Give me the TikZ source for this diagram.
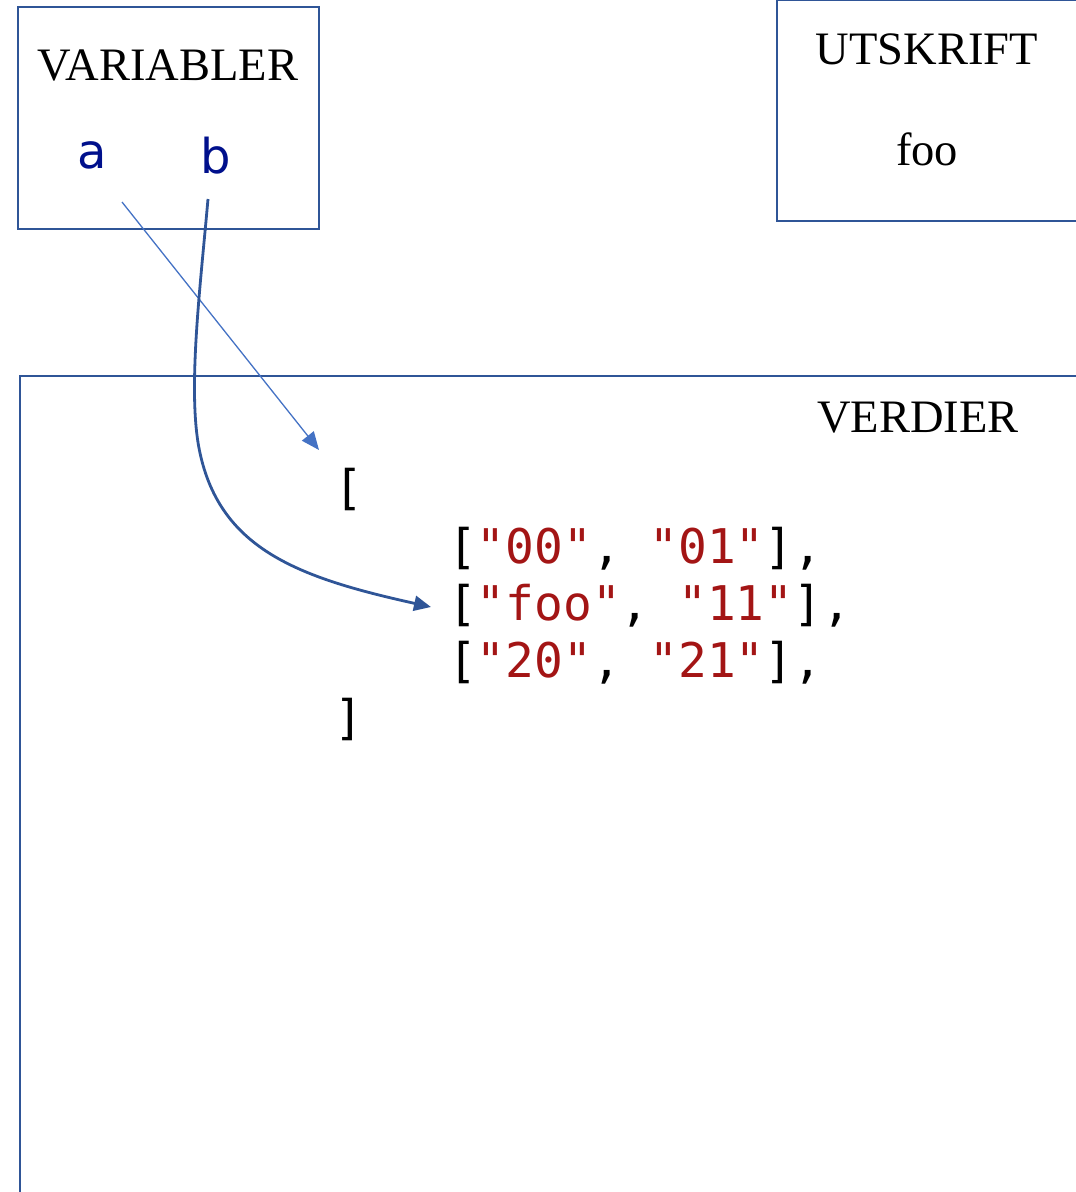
\documentclass[tikz,border=0pt]{standalone}
\usepackage{fontspec}
\setmainfont{Liberation Serif}
\newfontfamily\sansf{DejaVu Sans}
\newfontfamily\monof{DejaVu Sans Mono}
\usetikzlibrary{arrows.meta}
\definecolor{boxblue}{HTML}{2F5597}
\definecolor{lightblue}{HTML}{4472C4}
\definecolor{varnavy}{RGB}{0,16,140}
\definecolor{strred}{HTML}{A31515}
\tikzset{
  panel/.style={draw=boxblue, line width=2.8pt, rectangle, inner sep=0pt},
  title/.style={font=\fontsize{46.5}{54}\selectfont, inner sep=0pt, anchor=base},
  varname/.style={font=\sansf\fontsize{48}{56}\selectfont, text=varnavy, inner sep=0pt, anchor=base},
  code/.style={font=\monof\fontsize{47.8}{56}\selectfont, inner sep=0pt, anchor=base west},
  thinarr/.style={draw=lightblue, line width=1.3pt, -{Triangle[length=18pt,width=15pt]}},
  thickarr/.style={draw=boxblue, line width=2.8pt, -{Triangle[length=17pt,width=15pt]}},
}
\newcommand{\sv}[1]{\textcolor{strred}{#1}}
\begin{document}
\begin{tikzpicture}[x=1pt,y=-1pt]
\useasboundingbox (0,0) rectangle (1076,1192);
% panels
\node[panel, minimum width=301pt, minimum height=222pt] (varbox) at (168.5,118) {};
\node[panel, minimum width=310pt, minimum height=221pt] (outbox) at (932,110.5) {};
\draw[boxblue, line width=2.8pt] (20,1200) -- (20,376) -- (1085,376);
% titles
\node[title] (vartitle) at (168,80) {VARIABLER};
\node[title] (outtitle) at (927,64) {UTSKRIFT};
\node[title] (outfoo) at (927,165) {foo};
\node[title] (valtitle) at (918,432) {VERDIER};
% variable names
\node[varname] (a) at (92,168) {a};
\node[varname] (b) at (216,173) {b};
% code
\node[code] (l0) at (334,504) {[};
\node[code] (l1) at (448,563) {[\sv{"00"}, \sv{"01"}],};
\node[code] (l2) at (448,620) {[\sv{"foo"}, \sv{"11"}],};
\node[code] (l3) at (448,677) {[\sv{"20"}, \sv{"21"}],};
\node[code] (l4) at (334,734) {]};
% connector ends
\coordinate (aout) at (122,202);
\coordinate (bout) at (208,199);
\coordinate (l0in) at (319,450);
\coordinate (l2in) at (431,607);
\draw[thinarr] (aout) -- (l0in);
\draw[thickarr] (bout) .. controls (200,290) and (187,394) .. (200,453)
  .. controls (221,550) and (300,578) .. (l2in);
\end{tikzpicture}
\end{document}
